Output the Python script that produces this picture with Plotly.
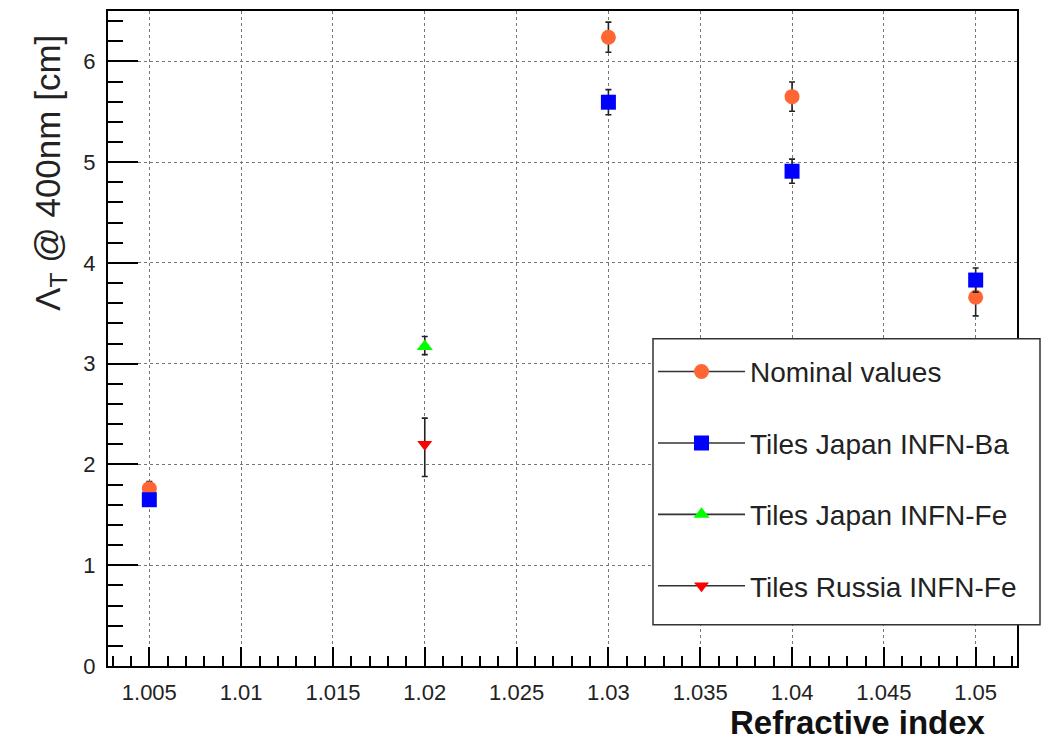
import plotly.graph_objects as go

# ---- data ----
nominal_x = [1.005, 1.03, 1.04, 1.05]
nominal_y = [1.76, 6.24, 5.65, 3.66]
nominal_err = [0.07, 0.15, 0.145, 0.185]

ba_x = [1.005, 1.03, 1.04, 1.05]
ba_y = [1.65, 5.595, 4.91, 3.83]
ba_err = [0.06, 0.125, 0.12, 0.12]

jfe_x = [1.02]
jfe_y = [3.17]
jfe_err_plus = [0.10]
jfe_err_minus = [0.08]

rfe_x = [1.02]
rfe_y = [2.20]
rfe_err_plus = [0.26]
rfe_err_minus = [0.32]

series_names = ["Nominal values", "Tiles Japan INFN-Ba",
                "Tiles Japan INFN-Fe", "Tiles Russia INFN-Fe"]
x_ticks = [1.005, 1.01, 1.015, 1.02, 1.025, 1.03, 1.035, 1.04, 1.045, 1.05]
x_tick_labels = ["1.005", "1.01", "1.015", "1.02", "1.025", "1.03",
                 "1.035", "1.04", "1.045", "1.05"]
y_ticks = [0, 1, 2, 3, 4, 5, 6]

# ---- styles ----
ORANGE = "#ff6633"
BLUE = "#0000ff"
GREEN = "#00ff00"
RED = "#ff0000"
FONT = "Liberation Sans, Arial, Helvetica, sans-serif"
ERRC = "#222222"

fig = go.Figure()

def err(arr, arrm=None):
    d = dict(type="data", array=arr, color=ERRC, thickness=1.6, width=3, visible=True)
    if arrm is not None:
        d["symmetric"] = False
        d["arrayminus"] = arrm
    return d

styles = [
    dict(symbol="circle", size=15, color=ORANGE),
    dict(symbol="square", size=15, color=BLUE),
    dict(symbol="triangle-up", size=14, color=GREEN),
    dict(symbol="triangle-down", size=13, color=RED),
]

data = [
    (nominal_x, nominal_y, err(nominal_err)),
    (ba_x, ba_y, err(ba_err)),
    (jfe_x, jfe_y, err(jfe_err_plus, jfe_err_minus)),
    (rfe_x, rfe_y, err(rfe_err_plus, rfe_err_minus)),
]

for (xs, ys, e), st, name in zip(data, styles, series_names):
    fig.add_trace(go.Scatter(
        x=xs, y=ys, mode="markers", error_y=e, name=name, showlegend=False,
        marker=dict(symbol=st["symbol"], size=st["size"], color=st["color"],
                    line=dict(width=0)),
        cliponaxis=False,
    ))

# legend entries (line + marker like ROOT "lp")
for i, (st, name) in enumerate(zip(styles, series_names)):
    fig.add_trace(go.Scatter(
        x=[None], y=[None], mode="lines+markers", name=name,
        legendgroup="g%d" % i, showlegend=True,
        line=dict(color="#333333", width=1.6),
        marker=dict(symbol=st["symbol"], size=st["size"], color=st["color"],
                    line=dict(width=0)),
    ))

L, R, T, B = 108, 33, 9, 76.5
W, H = 1050, 743
pw, ph = W - L - R, H - T - B

def px(xp):
    return (xp - L) / pw

def py(yp):
    return (H - B - yp) / ph

axis_common = dict(
    showline=True, linecolor="black", linewidth=2, mirror=True,
    showgrid=True, gridcolor="#777777", griddash="dot", gridwidth=1,
    ticks="inside", tickcolor="black", tickwidth=1.5,
    zeroline=False,
    tickfont=dict(family=FONT, size=22, color="#222222"),
)

fig.update_layout(
    width=W, height=H,
    margin=dict(l=L, r=R, t=T, b=B, pad=0),
    paper_bgcolor="white", plot_bgcolor="white",
    xaxis=dict(
        range=[1.00275, 1.05225], tickvals=x_ticks, ticktext=x_tick_labels,
        ticklen=19, ticklabelstandoff=6,
        minor=dict(dtick=0.001, tick0=1.0, ticklen=10, ticks="inside",
                   tickcolor="black", tickwidth=1.5, showgrid=False),
        **axis_common,
    ),
    yaxis=dict(
        range=[0, 6.5], tickvals=y_ticks, ticklen=30, ticklabelstandoff=6,
        minor=dict(dtick=0.2, tick0=0, ticklen=15, ticks="inside",
                   tickcolor="black", tickwidth=1.5, showgrid=False),
        **axis_common,
    ),
    legend=dict(
        x=px(653), y=py(337), xanchor="left", yanchor="top",
        bgcolor="rgba(0,0,0,0)", borderwidth=0,
        font=dict(family=FONT, size=28, color="#222222"),
        traceorder="grouped", tracegroupgap=32, itemwidth=87,
        title=dict(text=" ", font=dict(size=7)),
    ),
    showlegend=True,
    shapes=[
        dict(type="rect", xref="paper", yref="paper",
             x0=px(653), x1=px(1040), y0=py(625), y1=py(338),
             fillcolor="white", line=dict(color="#333333", width=1.5),
             layer="above"),
    ],
    annotations=[
        dict(text="<b>Refractive index</b>", x=px(988), y=py(723),
             xref="paper", yref="paper", xanchor="right", yanchor="middle",
             showarrow=False,
             font=dict(family=FONT, size=33, color="#111111")),
        dict(text="Λ<sub>T</sub> @ 400nm [cm]", x=px(50), y=py(31),
             xref="paper", yref="paper", xanchor="center", yanchor="top",
             textangle=-90, showarrow=False,
             font=dict(family=FONT, size=35, color="#222222")),
    ],
)

fig.write_html("out.html")
